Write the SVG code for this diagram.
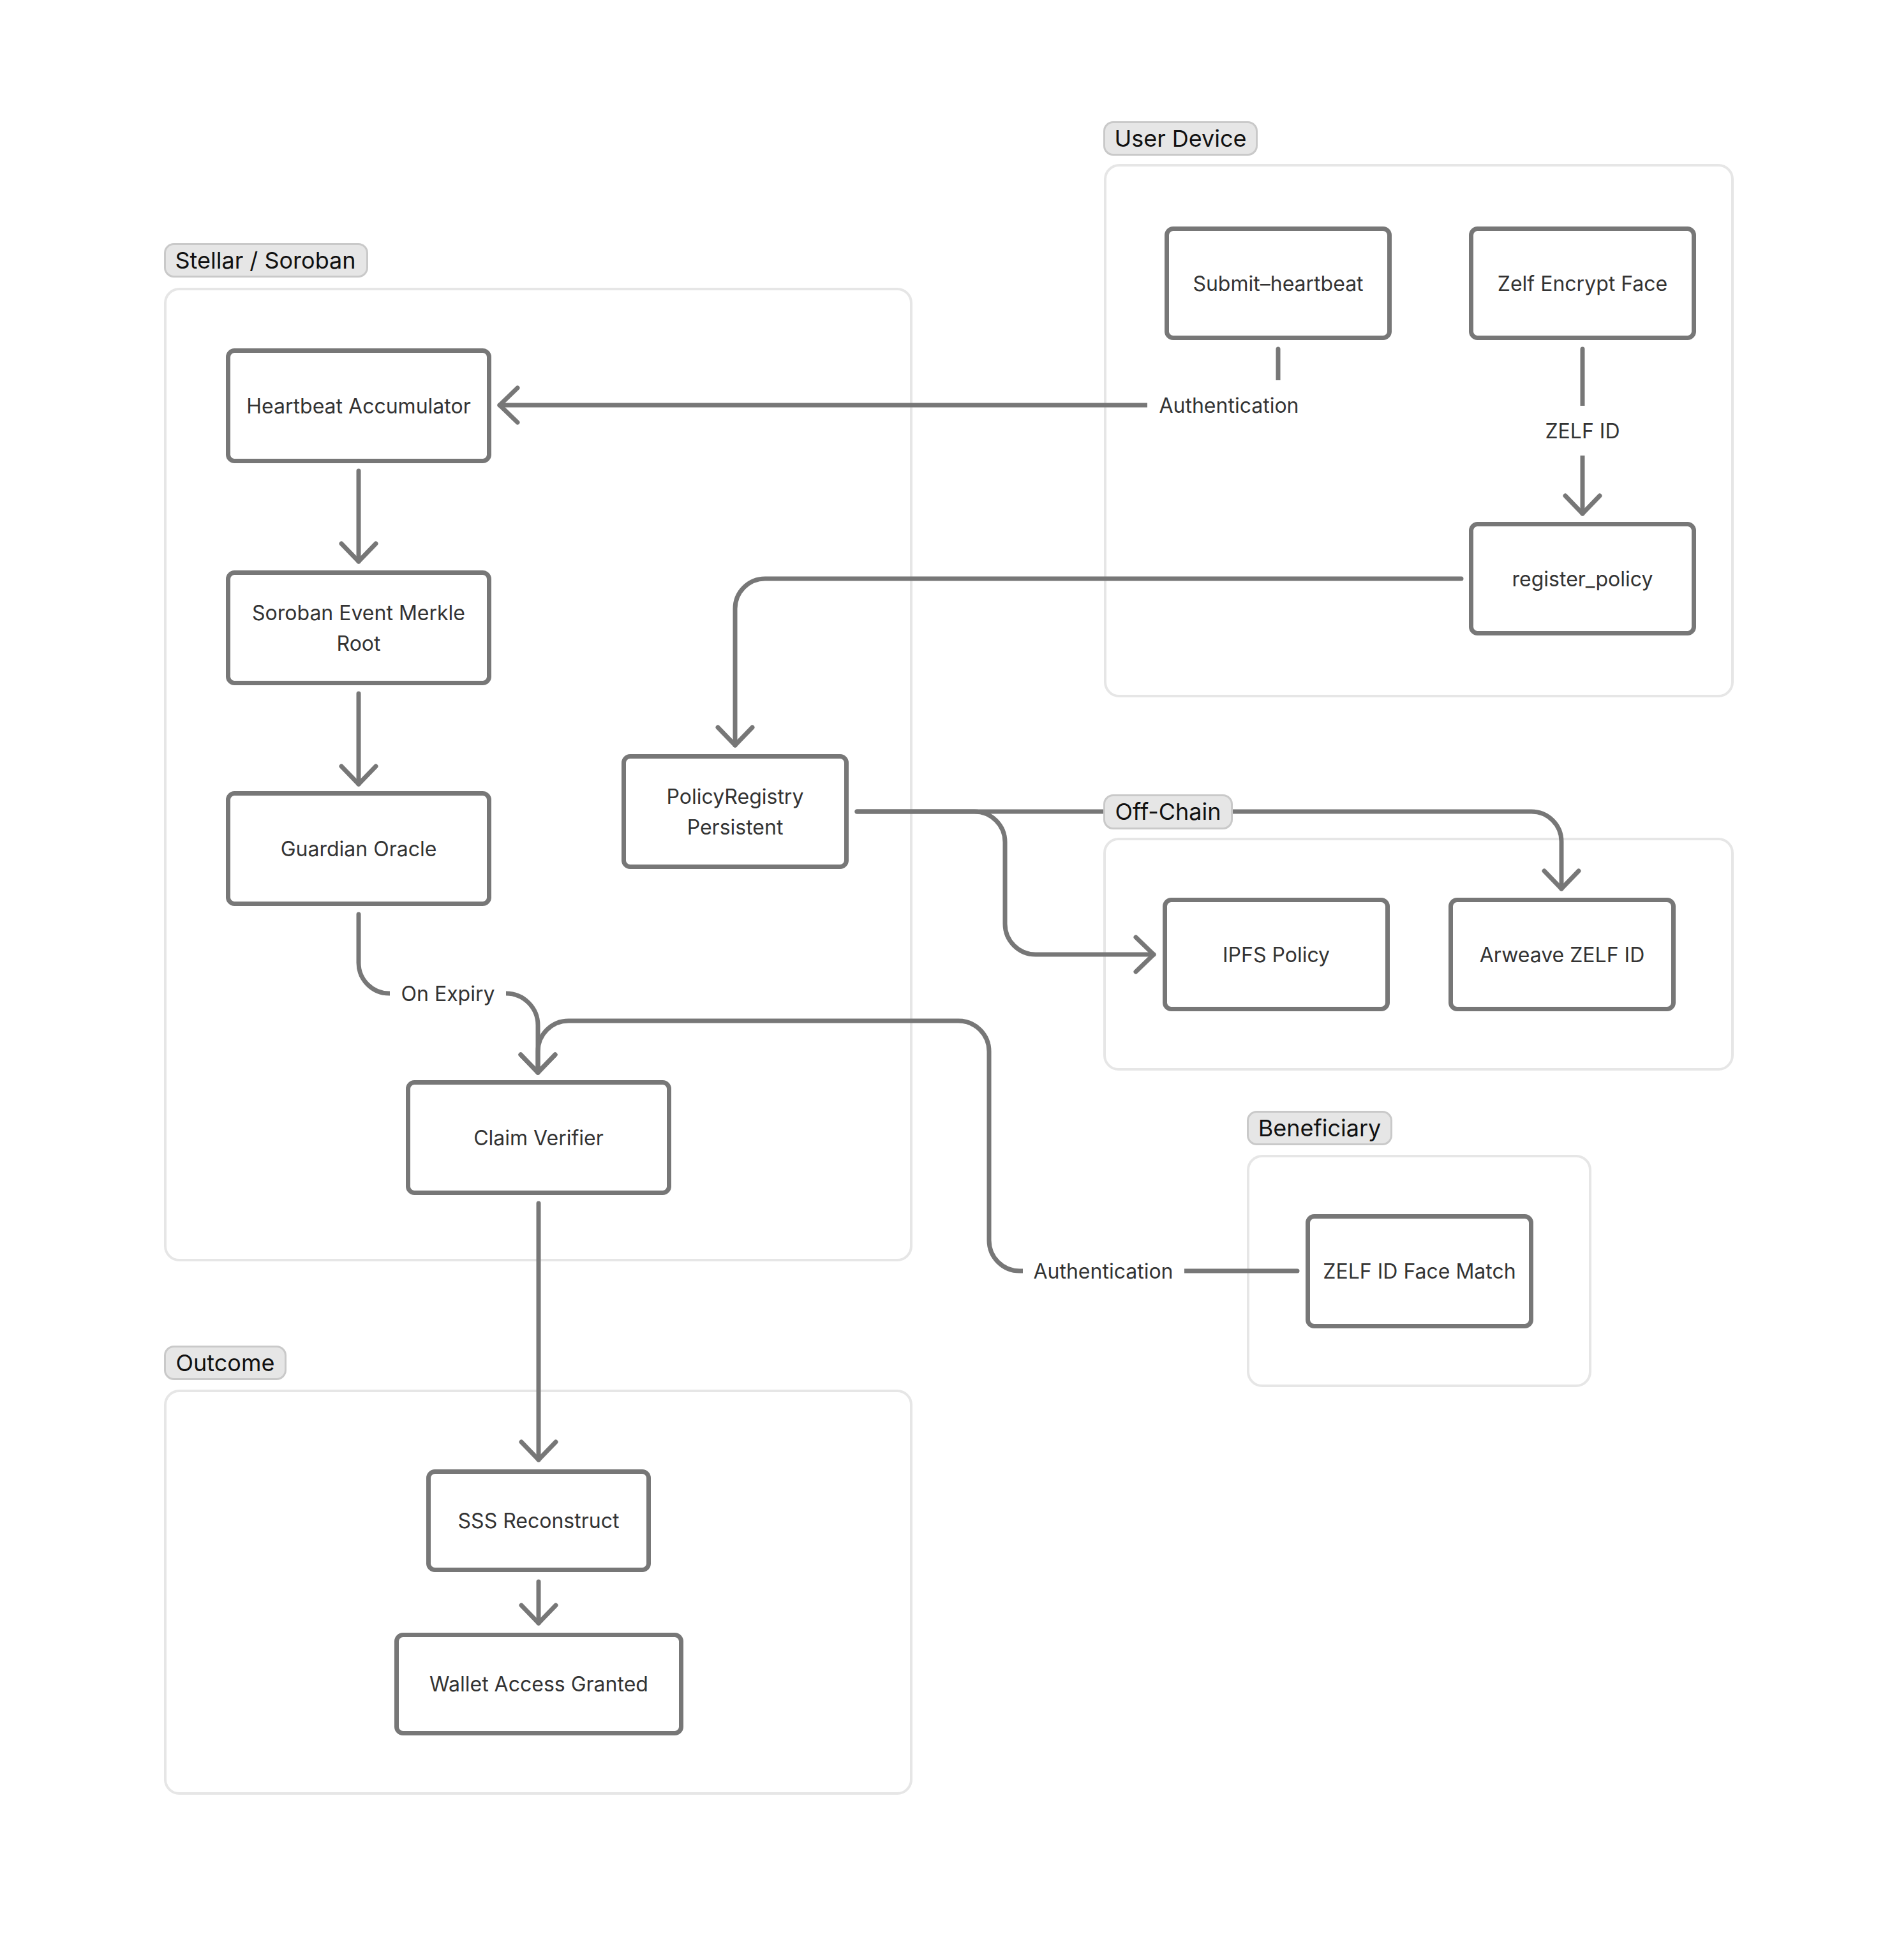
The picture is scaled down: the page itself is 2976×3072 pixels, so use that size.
<svg xmlns="http://www.w3.org/2000/svg" width="2976" height="3072" viewBox="0 0 2976 3072">
<style>
.bg{fill:#ffffff}
.container{fill:none;stroke:#e6e6e6;stroke-width:4}
.glabel{fill:#e6e6e6;stroke:#c9c9c9;stroke-width:3}
.gtext{font-family:Inter,"Liberation Sans",sans-serif;font-size:36px;fill:#111111;text-anchor:middle}
.node{fill:#ffffff;stroke:#777777;stroke-width:7}
.ntext{font-family:Inter,"Liberation Sans",sans-serif;font-size:32px;fill:#333333;text-anchor:middle}
.edge{fill:none;stroke:#777777;stroke-width:7;stroke-linecap:round;stroke-linejoin:round}
.lblbg{fill:#ffffff}
.etext{font-family:Inter,"Liberation Sans",sans-serif;font-size:32px;fill:#333333;text-anchor:middle}
</style>
<defs>
<marker id="arrow" markerUnits="userSpaceOnUse" viewBox="-40 -40 80 80" markerWidth="80" markerHeight="80" refX="0" refY="0" orient="auto">
<path d="M -28 -27 L 0 0 L -28 27" fill="none" stroke="#777777" stroke-width="7" stroke-linecap="round" stroke-linejoin="round"/>
</marker>
</defs>
<rect class="bg" x="0" y="0" width="2976" height="3072"/>

<g id="containers">
<rect class="container" x="1732" y="259" width="983" height="832" rx="22"/>
<rect class="container" x="259" y="453" width="1169" height="1522" rx="22"/>
<rect class="container" x="1731" y="1315" width="984" height="361" rx="22"/>
<rect class="container" x="1956" y="1812" width="536" height="360" rx="22"/>
<rect class="container" x="259" y="2180" width="1169" height="631" rx="22"/>
</g>

<g id="connectors">
<path class="edge" d="M2003 547 V635 H783" marker-end="url(#arrow)"/>
<path class="edge" d="M2480 547 V805" marker-end="url(#arrow)"/>
<path class="edge" d="M2290 907 H1199 A47 47 0 0 0 1152 954 V1168" marker-end="url(#arrow)"/>
<path class="edge" d="M562 738 V880" marker-end="url(#arrow)"/>
<path class="edge" d="M562 1087 V1229" marker-end="url(#arrow)"/>
<path class="edge" d="M562 1433 V1509 A48 48 0 0 0 610 1557 H793 A50 50 0 0 1 843 1607 V1681" marker-end="url(#arrow)"/>
<path class="edge" d="M2033 1992 H1598 A48 48 0 0 1 1550 1944 V1648 A48 48 0 0 0 1502 1600 H891 A48 48 0 0 0 843 1648 V1681" marker-end="url(#arrow)"/>
<path class="edge" d="M1343 1272 H1527 A48 48 0 0 1 1575 1320 V1448 A48 48 0 0 0 1623 1496 H1808" marker-end="url(#arrow)"/>
<path class="edge" d="M1343 1272 H2400 A47 47 0 0 1 2447 1319 V1393" marker-end="url(#arrow)"/>
<path class="edge" d="M844 1886 V2288" marker-end="url(#arrow)"/>
<path class="edge" d="M844 2479 V2544" marker-end="url(#arrow)"/>
<rect class="lblbg" x="1798" y="596" width="256" height="78"/>
<text class="etext" x="1926" y="646.6">Authentication</text>
<rect class="lblbg" x="2400" y="636" width="160" height="78"/>
<text class="etext" x="2480" y="686.6">ZELF ID</text>
<rect class="lblbg" x="611" y="1518" width="182" height="78"/>
<text class="etext" x="702" y="1568.6">On Expiry</text>
<rect class="lblbg" x="1603" y="1953" width="253" height="78"/>
<text class="etext" x="1729" y="2003.6">Authentication</text>
</g>

<g id="node-heartbeat-accumulator">
<rect class="node" x="357.5" y="549.5" width="409" height="173" rx="10"/>
<text class="ntext" x="562" y="647.6">Heartbeat Accumulator</text>
</g>
<g id="node-soroban-merkle">
<rect class="node" x="357.5" y="897.5" width="409" height="173" rx="10"/>
<text class="ntext" x="562" y="972">Soroban Event Merkle</text>
<text class="ntext" x="562" y="1020">Root</text>
</g>
<g id="node-guardian-oracle">
<rect class="node" x="357.5" y="1243.5" width="409" height="173" rx="10"/>
<text class="ntext" x="562" y="1341.6">Guardian Oracle</text>
</g>
<g id="node-policy-registry">
<rect class="node" x="977.5" y="1185.5" width="349" height="173" rx="10"/>
<text class="ntext" x="1152" y="1260">PolicyRegistry</text>
<text class="ntext" x="1152" y="1308">Persistent</text>
</g>
<g id="node-claim-verifier">
<rect class="node" x="639.5" y="1696.5" width="409" height="173" rx="10"/>
<text class="ntext" x="844" y="1794.6">Claim Verifier</text>
</g>
<g id="node-sss-reconstruct">
<rect class="node" x="671.5" y="2306.5" width="345" height="154" rx="10"/>
<text class="ntext" x="844" y="2395">SSS Reconstruct</text>
</g>
<g id="node-wallet-access">
<rect class="node" x="621.5" y="2562.5" width="446" height="154" rx="10"/>
<text class="ntext" x="844.5" y="2651">Wallet Access Granted</text>
</g>
<g id="node-submit-heartbeat">
<rect class="node" x="1828.5" y="358.5" width="349" height="171" rx="10"/>
<text class="ntext" x="2003" y="455.6">Submit–heartbeat</text>
</g>
<g id="node-zelf-encrypt-face">
<rect class="node" x="2305.5" y="358.5" width="349" height="171" rx="10"/>
<text class="ntext" x="2480" y="455.6">Zelf Encrypt Face</text>
</g>
<g id="node-register-policy">
<rect class="node" x="2305.5" y="821.5" width="349" height="171" rx="10"/>
<text class="ntext" x="2480" y="918.6">register_policy</text>
</g>
<g id="node-ipfs-policy">
<rect class="node" x="1825.5" y="1410.5" width="349" height="171" rx="10"/>
<text class="ntext" x="2000" y="1507.6">IPFS Policy</text>
</g>
<g id="node-arweave-zelf-id">
<rect class="node" x="2273.5" y="1410.5" width="349" height="171" rx="10"/>
<text class="ntext" x="2448" y="1507.6">Arweave ZELF ID</text>
</g>
<g id="node-zelf-face-match">
<rect class="node" x="2049.5" y="1906.5" width="350" height="172" rx="10"/>
<text class="ntext" x="2224.5" y="2004">ZELF ID Face Match</text>
</g>

<g id="group-labels">
<g id="label-user-device">
<rect class="glabel" x="1730.5" y="191.5" width="239" height="51" rx="14"/>
<text class="gtext" x="1850" y="230">User Device</text>
</g>
<g id="label-stellar">
<rect class="glabel" x="258.5" y="382.5" width="317" height="51" rx="14"/>
<text class="gtext" x="416" y="421">Stellar / Soroban</text>
</g>
<g id="label-off-chain">
<rect class="glabel" x="1730.5" y="1246.5" width="200" height="52" rx="14"/>
<text class="gtext" x="1830.5" y="1285">Off-Chain</text>
</g>
<g id="label-beneficiary">
<rect class="glabel" x="1955.5" y="1742.5" width="225" height="51" rx="14"/>
<text class="gtext" x="2068" y="1781">Beneficiary</text>
</g>
<g id="label-outcome">
<rect class="glabel" x="258.5" y="2110.5" width="189" height="51" rx="14"/>
<text class="gtext" x="353" y="2149">Outcome</text>
</g>
</g>
</svg>
